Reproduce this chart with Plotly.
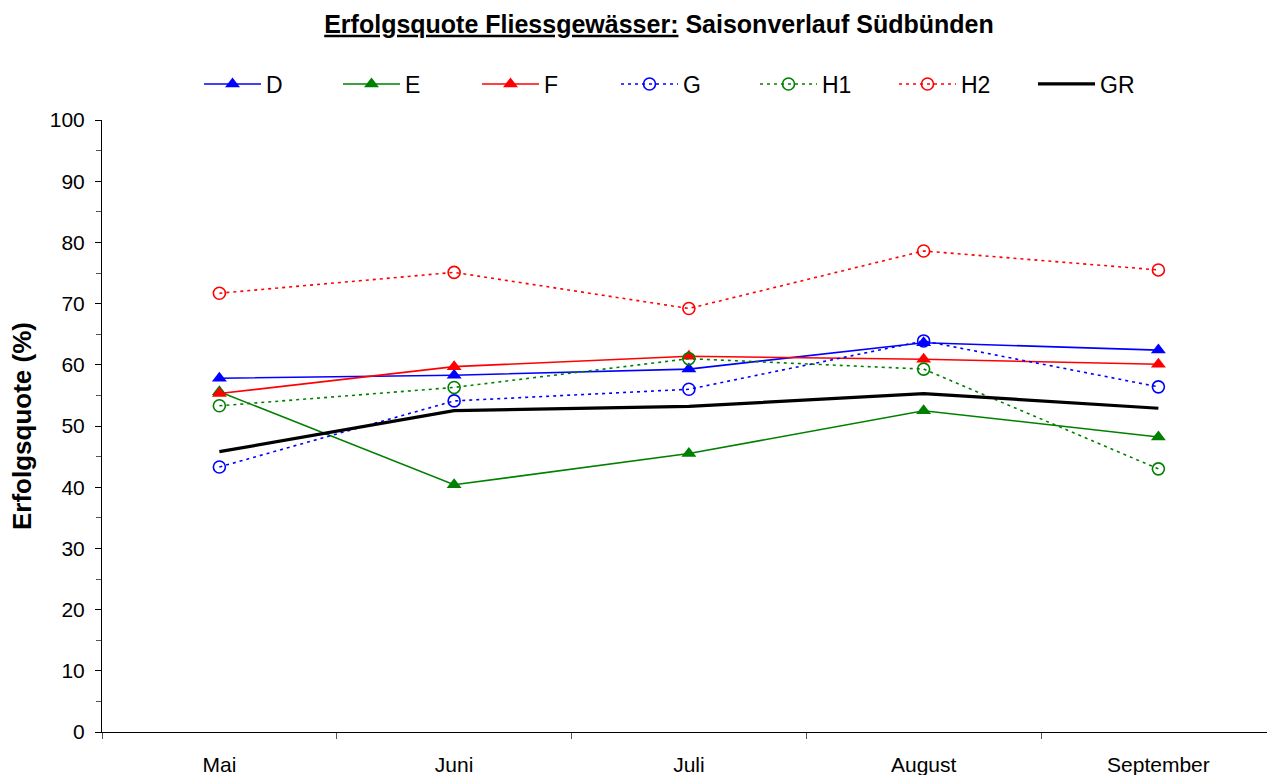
import plotly.graph_objects as go

months = ["Mai", "Juni", "Juli", "August", "September"]
D = [57.8, 58.3, 59.3, 63.6, 62.4]
E = [55.6, 40.4, 45.5, 52.5, 48.2]
F = [55.3, 59.7, 61.4, 60.9, 60.1]
G = [43.3, 54.1, 56.0, 63.9, 56.4]
H1 = [53.3, 56.3, 61.0, 59.3, 43.0]
H2 = [71.7, 75.1, 69.2, 78.6, 75.5]
GR = [45.8, 52.5, 53.2, 55.3, 52.9]

BLUE, GREEN, RED = "#0000FF", "#008000", "#FF0000"
xi = list(range(len(months)))

fig = go.Figure()

def tri(name, vals, color):
    fig.add_trace(go.Scatter(x=xi, y=vals, name=name, mode="lines+markers",
                             line=dict(color=color, width=1.6),
                             marker=dict(symbol="triangle-up", size=13, color=color)))

def circ(name, vals, color):
    fig.add_trace(go.Scatter(x=xi, y=vals, name=name, mode="lines+markers",
                             line=dict(color=color, width=1.6, dash="3px,4px"),
                             marker=dict(symbol="circle-open", size=12, color=color,
                                         line=dict(width=1.6, color=color))))

tri("D", D, BLUE)
tri("E", E, GREEN)
tri("F", F, RED)
circ("G", G, BLUE)
circ("H1", H1, GREEN)
circ("H2", H2, RED)
fig.add_trace(go.Scatter(x=xi, y=GR, name="GR", mode="lines",
                         line=dict(color="black", width=3.2)))

FONT = "Liberation Sans, Arial, sans-serif"
PL, PT, PB = 102, 120, 732
PW, PH = 1267 - PL, PB - PT
CAT = 234.75  # px per category in the reference

fig.update_layout(
    width=1267, height=775,
    margin=dict(l=PL, r=0, t=PT, b=775 - PB, autoexpand=False),
    paper_bgcolor="white", plot_bgcolor="white",
    font=dict(family=FONT, color="black", size=21),
    showlegend=True,
    hovermode=False,
    title=dict(
        text="<b><span style='text-decoration:underline'>Erfolgsquote Fliessgewässer:</span> Saisonverlauf Südbünden</b>",
        x=659 / 1267, xanchor="center", xref="container",
        y=1 - 24 / 775, yanchor="middle", yref="container",
        font=dict(size=25, family=FONT, color="black"),
    ),
    legend=dict(
        orientation="h", x=97 / PW, xanchor="left",
        y=(PB - 84) / PH, yanchor="middle",
        itemwidth=57,
        entrywidth=67, entrywidthmode="pixels",
        font=dict(size=23, family=FONT), bgcolor="rgba(0,0,0,0)",
    ),
    xaxis=dict(
        range=[-0.5, -0.5 + PW / CAT],
        tickmode="array", tickvals=xi, ticktext=months,
        ticks="", showgrid=False, zeroline=False,
        showline=True, linecolor="black", linewidth=1,
        tickfont=dict(size=21, family=FONT),
        ticklabelstandoff=14,
        minor=dict(ticks="outside", tickmode="array",
                   tickvals=[-0.5, 0.5, 1.5, 2.5, 3.5, 4.5],
                   ticklen=6, tickcolor="#555", tickwidth=1, showgrid=False),
    ),
    yaxis=dict(
        range=[0, 100], tickmode="linear", tick0=0, dtick=10,
        ticks="outside", ticklen=6, tickcolor="black", tickwidth=1,
        showgrid=False, zeroline=False,
        showline=True, linecolor="black", linewidth=1,
        tickfont=dict(size=21, family=FONT),
        ticklabelstandoff=6,
        minor=dict(ticks="outside", dtick=5, ticklen=5, tickcolor="#555", tickwidth=1, showgrid=False),
        title=dict(text="<b>Erfolgsquote (%)</b>", font=dict(size=26, family=FONT), standoff=10),
    ),
)

fig.write_html(
    "out.html",
    config={"displayModeBar": False, "staticPlot": True},
    post_script=("document.body.style.margin='0';"
                 "document.body.style.overflow='hidden';"
                 "document.documentElement.style.overflow='hidden';"),
)
